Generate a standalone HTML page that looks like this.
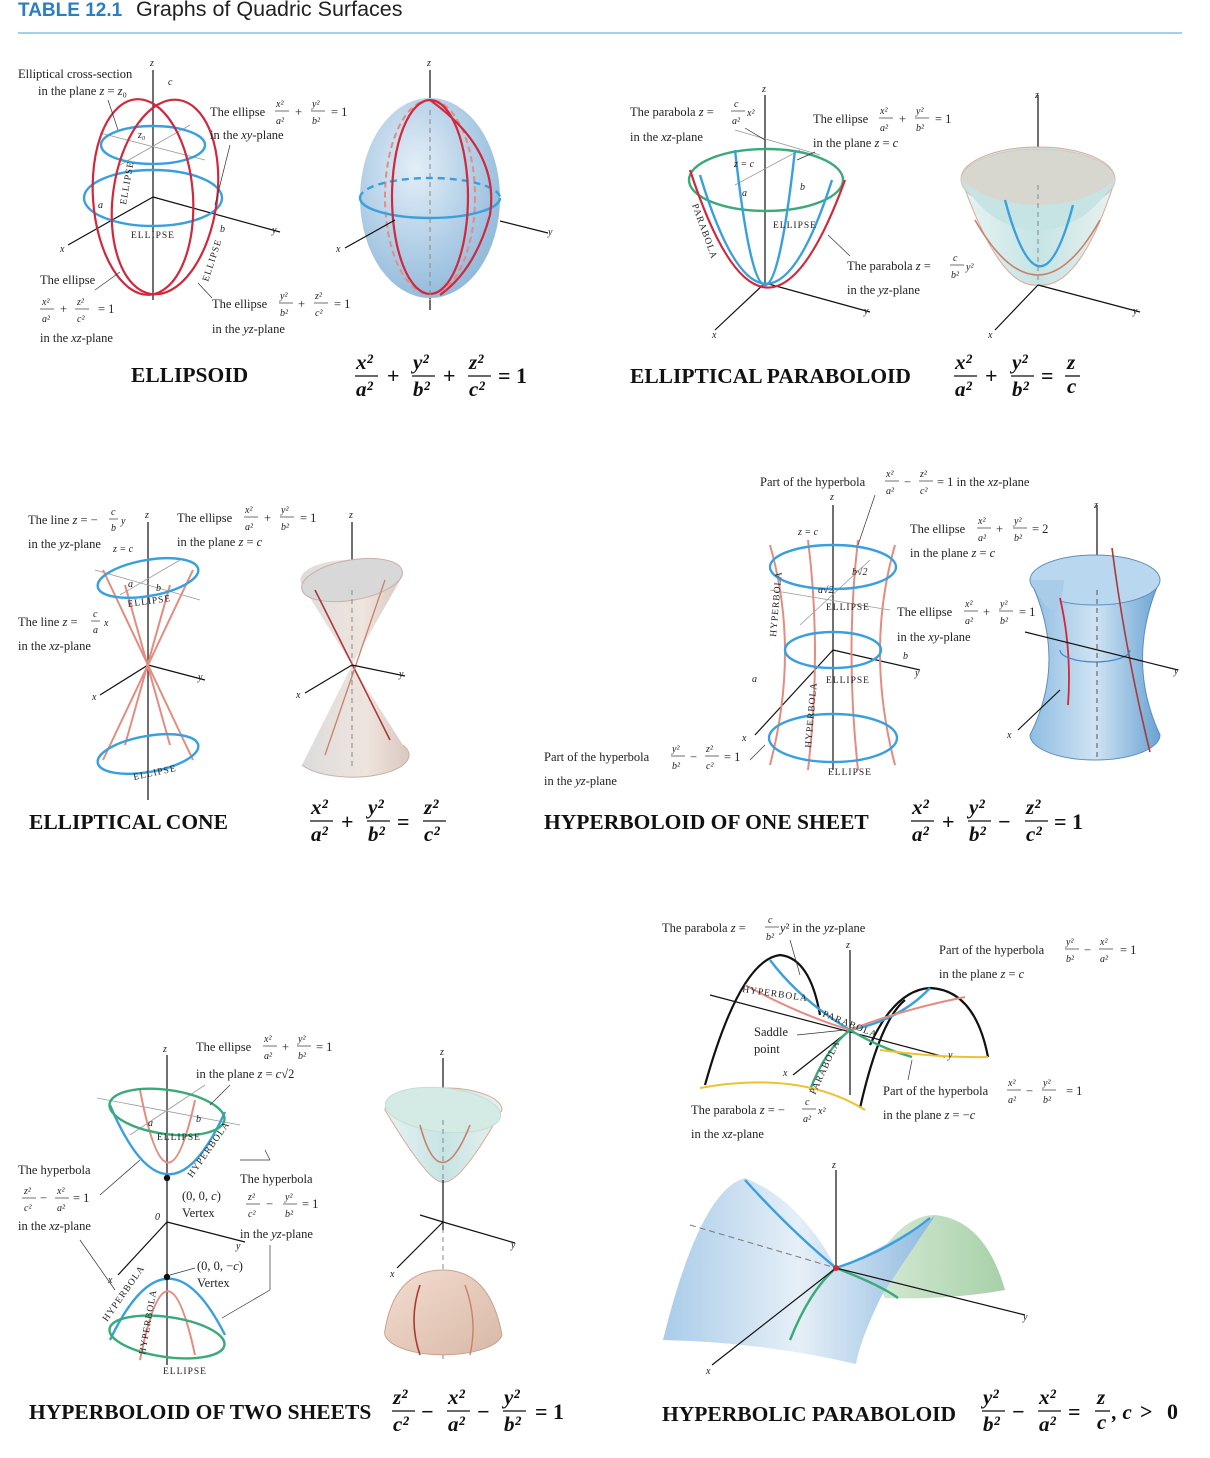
<!DOCTYPE html>
<html><head><meta charset="utf-8"><style>
html,body{margin:0;padding:0;background:#fff}
svg{display:block}
.lb{font-family:"Liberation Serif",serif;font-size:12.5px;fill:#222}
.sm{font-family:"Liberation Serif",serif;font-size:10px;fill:#222;font-style:italic}
.ti{font-family:"Liberation Serif",serif;font-size:21.5px;font-weight:bold;fill:#111}
.fm{font-family:"Liberation Serif",serif;font-size:21px;font-weight:bold;font-style:italic;fill:#111}
.op{font-family:"Liberation Serif",serif;font-size:22px;font-weight:bold;fill:#111}
.cap{font-family:"Liberation Serif",serif;font-size:9.5px;fill:#222;letter-spacing:1px}
.ax{stroke:#111;stroke-width:1.2;fill:none}
.gr{stroke:#999;stroke-width:0.8;fill:none}
.bl{stroke:#3aa0dd;stroke-width:2.4;fill:none}
.rd{stroke:#d0283c;stroke-width:2.2;fill:none}
.pk{stroke:#e48c80;stroke-width:2;fill:none}
.gn{stroke:#3aaa78;stroke-width:2.4;fill:none}
.ye{stroke:#f0c030;stroke-width:2;fill:none}
.bk{stroke:#111;stroke-width:2.2;fill:none}
.ld{stroke:#333;stroke-width:0.7;fill:none}
</style></head><body>
<svg width="1210" height="1458" viewBox="0 0 1210 1458">
<defs>
<radialGradient id="gb" cx="0.4" cy="0.35" r="0.7"><stop offset="0" stop-color="#e3eef7"/><stop offset="1" stop-color="#8fb8da"/></radialGradient>
<linearGradient id="gcup" x1="0" y1="0" x2="1" y2="0"><stop offset="0" stop-color="#e8f3f2"/><stop offset="0.5" stop-color="#c6e4e4"/><stop offset="1" stop-color="#e9f1ee"/></linearGradient>
<linearGradient id="gcone" x1="0" y1="0" x2="1" y2="0"><stop offset="0" stop-color="#dcdcdc"/><stop offset="0.6" stop-color="#efe4de"/><stop offset="1" stop-color="#d9c8c0"/></linearGradient>
<linearGradient id="ghyp" x1="0" y1="0" x2="1" y2="0"><stop offset="0" stop-color="#8fbde2"/><stop offset="0.5" stop-color="#cfe3f3"/><stop offset="1" stop-color="#6aa3d3"/></linearGradient>
<linearGradient id="gdome" x1="0" y1="0" x2="1" y2="1"><stop offset="0" stop-color="#f3ddd0"/><stop offset="1" stop-color="#d8b8a6"/></linearGradient>
<linearGradient id="gsad" x1="0" y1="0" x2="1" y2="0"><stop offset="0" stop-color="#a9cce9"/><stop offset="0.5" stop-color="#e6eff7"/><stop offset="1" stop-color="#8ebadf"/></linearGradient>
<linearGradient id="ggr" x1="0" y1="0" x2="1" y2="0"><stop offset="0" stop-color="#d6ead6"/><stop offset="1" stop-color="#a8d0a8"/></linearGradient>
</defs>

<g>
<text x="18" y="16" font-family="Liberation Sans,sans-serif" font-size="19" font-weight="bold" fill="#2a7fc0">TABLE 12.1</text>
<text x="136" y="16" font-family="Liberation Sans,sans-serif" font-size="21.5" fill="#222">Graphs of Quadric Surfaces</text>
<line x1="18" y1="33" x2="1182" y2="33" stroke="#7cc3e6" stroke-width="1.5"/>
</g>

<!-- ELLIPSOID -->
<g>
<line class="ax" x1="153" y1="70" x2="153" y2="300"/>
<line class="ax" x1="153" y1="197" x2="280" y2="232"/>
<line class="ax" x1="153" y1="197" x2="68" y2="245"/>
<line class="gr" x1="100" y1="133" x2="205" y2="160"/><line class="gr" x1="120" y1="165" x2="190" y2="125"/>
<ellipse class="bl" cx="153" cy="145" rx="52" ry="19"/>
<ellipse class="bl" cx="153" cy="198" rx="69" ry="28"/>
<ellipse class="rd" cx="143" cy="197" rx="50" ry="98" transform="rotate(-4 143 197)"/>
<ellipse class="rd" cx="165" cy="197" rx="52" ry="98" transform="rotate(8 165 197)"/>
<text class="sm" x="150" y="66">z</text><text class="sm" x="168" y="85">c</text><text class="sm" x="138" y="138">z₀</text>
<text class="sm" x="98" y="208">a</text><text class="sm" x="220" y="232">b</text><text class="sm" x="272" y="233">y</text><text class="sm" x="60" y="252">x</text>
<text class="cap" x="131" y="238">ELLIPSE</text>
<text class="cap" transform="translate(126 205) rotate(-80)">ELLIPSE</text>
<text class="cap" transform="translate(208 282) rotate(-72)">ELLIPSE</text>
<text class="lb" x="18" y="78">Elliptical cross-section</text>
<text class="lb" x="38" y="95">in the plane <tspan font-style="italic">z</tspan> = <tspan font-style="italic">z</tspan>₀</text>
<line class="ld" x1="108" y1="100" x2="118" y2="130"/>
<text class="lb" x="210" y="116">The ellipse</text>
<text class="sm" x="276" y="107">x²</text><line class="ld" x1="275" y1="111" x2="289" y2="111"/><text class="sm" x="276" y="124">a²</text>
<text class="lb" x="295" y="116">+</text>
<text class="sm" x="312" y="107">y²</text><line class="ld" x1="311" y1="111" x2="325" y2="111"/><text class="sm" x="312" y="124">b²</text>
<text class="lb" x="331" y="116">= 1</text>
<text class="lb" x="210" y="139">in the <tspan font-style="italic">xy</tspan>-plane</text>
<line class="ld" x1="230" y1="145" x2="215" y2="205"/>
<text class="lb" x="40" y="284">The ellipse</text>
<text class="sm" x="42" y="305">x²</text><line class="ld" x1="40" y1="309" x2="54" y2="309"/><text class="sm" x="42" y="322">a²</text>
<text class="lb" x="60" y="313">+</text>
<text class="sm" x="77" y="305">z²</text><line class="ld" x1="75" y1="309" x2="89" y2="309"/><text class="sm" x="77" y="322">c²</text>
<text class="lb" x="98" y="313">= 1</text>
<text class="lb" x="40" y="342">in the <tspan font-style="italic">xz</tspan>-plane</text>
<line class="ld" x1="95" y1="290" x2="120" y2="272"/>
<text class="lb" x="212" y="308">The ellipse</text>
<text class="sm" x="280" y="299">y²</text><line class="ld" x1="279" y1="303" x2="293" y2="303"/><text class="sm" x="280" y="316">b²</text>
<text class="lb" x="298" y="308">+</text>
<text class="sm" x="315" y="299">z²</text><line class="ld" x1="314" y1="303" x2="328" y2="303"/><text class="sm" x="315" y="316">c²</text>
<text class="lb" x="334" y="308">= 1</text>
<text class="lb" x="212" y="333">in the <tspan font-style="italic">yz</tspan>-plane</text>
<line class="ld" x1="212" y1="298" x2="198" y2="283"/>
</g>
<g>
<line class="ax" x1="430" y1="70" x2="430" y2="310"/>
<ellipse cx="430" cy="198" rx="70" ry="100" fill="url(#gb)"/>
<ellipse class="pk" cx="430" cy="197" rx="45" ry="97" stroke-dasharray="6 4"/>
<path class="bl" d="M360 198 A70 20 0 0 1 500 198" stroke-dasharray="7 5"/>
<path class="bl" d="M360 198 A70 20 0 0 0 500 198"/>
<ellipse class="rd" cx="430" cy="197" rx="38" ry="97"/>
<path class="rd" d="M430 100 Q500 150 490 215 Q475 270 440 295"/>
<line x1="430" y1="110" x2="430" y2="300" stroke="#888" stroke-dasharray="5 4"/>
<line class="ax" x1="500" y1="221" x2="548" y2="233"/><line class="ax" x1="395" y1="220" x2="345" y2="248"/>
<text class="sm" x="427" y="66">z</text><text class="sm" x="548" y="235">y</text><text class="sm" x="336" y="252">x</text>
</g>
<text class="ti" x="131" y="382">ELLIPSOID</text>
<g>
<text class="fm" x="356" y="369">x²</text><line x1="355" y1="376" x2="378" y2="376" stroke="#111" stroke-width="1.3"/><text class="fm" x="356" y="396">a²</text>
<text class="op" x="387" y="383">+</text>
<text class="fm" x="413" y="369">y²</text><line x1="412" y1="376" x2="435" y2="376" stroke="#111" stroke-width="1.3"/><text class="fm" x="413" y="396">b²</text>
<text class="op" x="443" y="383">+</text>
<text class="fm" x="469" y="369">z²</text><line x1="468" y1="376" x2="491" y2="376" stroke="#111" stroke-width="1.3"/><text class="fm" x="469" y="396">c²</text>
<text class="op" x="498" y="383">=  1</text>
</g>

<!-- ELLIPTICAL PARABOLOID -->
<g>
<line class="ax" x1="765" y1="95" x2="765" y2="283"/>
<line class="ax" x1="765" y1="283" x2="870" y2="312"/>
<line class="ax" x1="765" y1="283" x2="715" y2="330"/>
<line class="gr" x1="735" y1="130" x2="820" y2="155"/><line class="gr" x1="735" y1="185" x2="800" y2="150"/>
<ellipse class="gn" cx="766" cy="180" rx="77" ry="31"/>
<path class="bl" d="M735 150 Q765 420 795 150"/>
<path class="bl" d="M700 175 Q765 390 832 180"/>
<path class="rd" d="M690 170 Q765 400 845 180"/>
<text class="sm" x="762" y="92">z</text><text class="sm" x="734" y="167">z = c</text><text class="sm" x="742" y="196">a</text><text class="sm" x="800" y="190">b</text>
<text class="sm" x="864" y="314">y</text><text class="sm" x="712" y="338">x</text>
<text class="cap" x="773" y="228">ELLIPSE</text>
<text class="cap" transform="translate(692 205) rotate(70)">PARABOLA</text>
<text class="lb" x="630" y="116">The parabola <tspan font-style="italic">z</tspan> =</text>
<text class="sm" x="734" y="107">c</text><line class="ld" x1="731" y1="111" x2="745" y2="111"/><text class="sm" x="732" y="124">a²</text><text class="sm" x="747" y="116">x²</text>
<text class="lb" x="630" y="141">in the <tspan font-style="italic">xz</tspan>-plane</text>
<line class="ld" x1="745" y1="128" x2="765" y2="140"/>
<text class="lb" x="813" y="123">The ellipse</text>
<text class="sm" x="880" y="114">x²</text><line class="ld" x1="879" y1="118" x2="893" y2="118"/><text class="sm" x="880" y="131">a²</text>
<text class="lb" x="899" y="123">+</text>
<text class="sm" x="916" y="114">y²</text><line class="ld" x1="915" y1="118" x2="929" y2="118"/><text class="sm" x="916" y="131">b²</text>
<text class="lb" x="935" y="123">= 1</text>
<text class="lb" x="813" y="147">in the plane <tspan font-style="italic">z</tspan> = <tspan font-style="italic">c</tspan></text>
<line class="ld" x1="815" y1="152" x2="797" y2="160"/>
<text class="lb" x="847" y="270">The parabola <tspan font-style="italic">z</tspan> =</text>
<text class="sm" x="953" y="261">c</text><line class="ld" x1="950" y1="265" x2="964" y2="265"/><text class="sm" x="951" y="278">b²</text><text class="sm" x="966" y="270">y²</text>
<text class="lb" x="847" y="294">in the <tspan font-style="italic">yz</tspan>-plane</text>
<line class="ld" x1="850" y1="256" x2="828" y2="235"/>
</g>
<g>
<line class="ax" x1="1038" y1="95" x2="1038" y2="285"/>
<path d="M961 178 Q1000 290 1038 285 Q1080 290 1115 180 A77 32 0 0 0 961 178 Z" fill="url(#gcup)" stroke="#d8a898" stroke-width="1"/>
<ellipse cx="1038" cy="180" rx="77" ry="31" fill="#d7d7cf" stroke="#c8ccc4"/>
<path d="M961 180 Q990 230 1038 230 Q1085 230 1115 180 Q1085 205 1038 205 Q990 205 961 180Z" fill="#c5e4e3"/>
<path class="bl" d="M1005 200 Q1040 330 1073 205" stroke-width="1.8"/>
<path d="M975 220 Q1038 330 1100 220" stroke="#c9806a" stroke-width="1.6" fill="none"/>
<line x1="1038" y1="185" x2="1038" y2="283" stroke="#888" stroke-dasharray="5 4"/>
<line class="ax" x1="1038" y1="285" x2="1140" y2="312"/><line class="ax" x1="1038" y1="285" x2="995" y2="330"/>
<text class="sm" x="1035" y="98">z</text><text class="sm" x="1133" y="314">y</text><text class="sm" x="988" y="338">x</text>
</g>
<text class="ti" x="630" y="383">ELLIPTICAL PARABOLOID</text>
<g>
<text class="fm" x="955" y="369">x²</text><line x1="954" y1="376" x2="977" y2="376" stroke="#111" stroke-width="1.3"/><text class="fm" x="955" y="396">a²</text>
<text class="op" x="985" y="383">+</text>
<text class="fm" x="1012" y="369">y²</text><line x1="1011" y1="376" x2="1034" y2="376" stroke="#111" stroke-width="1.3"/><text class="fm" x="1012" y="396">b²</text>
<text class="op" x="1041" y="383">=</text>
<text class="fm" x="1067" y="369">z</text><line x1="1065" y1="376" x2="1080" y2="376" stroke="#111" stroke-width="1.3"/><text class="fm" x="1067" y="393">c</text>
</g>

<!-- ELLIPTICAL CONE -->
<g>
<line class="ax" x1="148" y1="522" x2="148" y2="800"/>
<line class="ax" x1="148" y1="665" x2="205" y2="680"/><line class="ax" x1="148" y1="665" x2="100" y2="695"/>
<line class="gr" x1="95" y1="570" x2="200" y2="600"/><line class="gr" x1="120" y1="595" x2="180" y2="560"/>
<line class="pk" x1="103" y1="570" x2="193" y2="760"/><line class="pk" x1="193" y1="570" x2="103" y2="760"/>
<line class="pk" x1="125" y1="585" x2="170" y2="745"/><line class="pk" x1="170" y1="585" x2="125" y2="745"/>
<ellipse class="bl" cx="148" cy="578" rx="51" ry="18" transform="rotate(-10 148 578)"/>
<ellipse class="bl" cx="148" cy="754" rx="51" ry="18" transform="rotate(-10 148 754)"/>
<text class="sm" x="145" y="518">z</text><text class="sm" x="113" y="552">z = c</text><text class="sm" x="128" y="587">a</text><text class="sm" x="156" y="591">b</text>
<text class="sm" x="198" y="680">y</text><text class="sm" x="92" y="700">x</text>
<text class="cap" x="128" y="607" transform="rotate(-8 128 607)">ELLIPSE</text>
<text class="cap" x="134" y="780" transform="rotate(-12 134 780)">ELLIPSE</text>
<text class="lb" x="28" y="524">The line <tspan font-style="italic">z</tspan> = −</text>
<text class="sm" x="111" y="515">c</text><line class="ld" x1="109" y1="519" x2="118" y2="519"/><text class="sm" x="111" y="531">b</text><text class="sm" x="121" y="524">y</text>
<text class="lb" x="28" y="548">in the <tspan font-style="italic">yz</tspan>-plane</text>
<text class="lb" x="177" y="522">The ellipse</text>
<text class="sm" x="245" y="513">x²</text><line class="ld" x1="244" y1="517" x2="258" y2="517"/><text class="sm" x="245" y="530">a²</text>
<text class="lb" x="264" y="522">+</text>
<text class="sm" x="281" y="513">y²</text><line class="ld" x1="280" y1="517" x2="294" y2="517"/><text class="sm" x="281" y="530">b²</text>
<text class="lb" x="300" y="522">= 1</text>
<text class="lb" x="177" y="546">in the plane <tspan font-style="italic">z</tspan> = <tspan font-style="italic">c</tspan></text>
<text class="lb" x="18" y="626">The line <tspan font-style="italic">z</tspan> =</text>
<text class="sm" x="93" y="617">c</text><line class="ld" x1="91" y1="621" x2="100" y2="621"/><text class="sm" x="93" y="633">a</text><text class="sm" x="104" y="626">x</text>
<text class="lb" x="18" y="650">in the <tspan font-style="italic">xz</tspan>-plane</text>
</g>
<g>
<line class="ax" x1="352" y1="522" x2="352" y2="580"/>
<path d="M302 585 L352 665 L403 575 A51 20 0 0 0 302 585Z" fill="url(#gcone)"/>
<ellipse cx="352" cy="580" rx="51" ry="20" transform="rotate(-10 352 580)" fill="#d8d8d8" stroke="#c9b0a6"/>
<path d="M302 765 L352 665 L403 745 A51 20 0 0 1 302 765Z" fill="url(#gcone)"/>
<path d="M302 765 A51 20 0 0 0 403 745" stroke="#c9b0a6" fill="none"/>
<line x1="315" y1="590" x2="390" y2="740" stroke="#a83a3a" stroke-width="1.6"/>
<line x1="385" y1="580" x2="325" y2="755" stroke="#c9806a" stroke-width="1.3"/>
<line x1="352" y1="590" x2="352" y2="770" stroke="#888" stroke-dasharray="5 4"/>
<line class="ax" x1="352" y1="665" x2="405" y2="676"/><line class="ax" x1="352" y1="665" x2="305" y2="693"/>
<text class="sm" x="349" y="518">z</text><text class="sm" x="399" y="677">y</text><text class="sm" x="296" y="698">x</text>
</g>
<text class="ti" x="29" y="829">ELLIPTICAL CONE</text>
<g>
<text class="fm" x="311" y="814">x²</text><line x1="310" y1="821" x2="333" y2="821" stroke="#111" stroke-width="1.3"/><text class="fm" x="311" y="841">a²</text>
<text class="op" x="341" y="829">+</text>
<text class="fm" x="368" y="814">y²</text><line x1="367" y1="821" x2="390" y2="821" stroke="#111" stroke-width="1.3"/><text class="fm" x="368" y="841">b²</text>
<text class="op" x="397" y="829">=</text>
<text class="fm" x="424" y="814">z²</text><line x1="423" y1="821" x2="446" y2="821" stroke="#111" stroke-width="1.3"/><text class="fm" x="424" y="841">c²</text>
</g>

<!-- HYPERBOLOID OF ONE SHEET -->
<g>
<line class="ax" x1="833" y1="505" x2="833" y2="770"/>
<line class="ax" x1="833" y1="650" x2="920" y2="670"/><line class="ax" x1="833" y1="650" x2="755" y2="735"/>
<line class="gr" x1="770" y1="590" x2="890" y2="610"/><line class="gr" x1="800" y1="625" x2="870" y2="560"/>
<path class="pk" d="M770 545 Q800 650 770 765"/><path class="pk" d="M895 545 Q865 650 895 765"/>
<path class="pk" d="M808 540 Q822 650 808 770"/><path class="pk" d="M858 540 Q845 650 858 770"/>
<ellipse class="bl" cx="833" cy="567" rx="63" ry="22"/>
<ellipse class="bl" cx="833" cy="650" rx="48" ry="18"/>
<ellipse class="bl" cx="833" cy="738" rx="64" ry="24"/>
<text class="sm" x="830" y="500">z</text><text class="sm" x="798" y="535">z = c</text><text class="sm" x="818" y="593">a√2</text><text class="sm" x="852" y="575">b√2</text>
<text class="sm" x="903" y="659">b</text><text class="sm" x="752" y="682">a</text><text class="sm" x="915" y="676">y</text><text class="sm" x="742" y="741">x</text>
<text class="cap" x="826" y="610">ELLIPSE</text><text class="cap" x="826" y="683">ELLIPSE</text><text class="cap" x="828" y="775">ELLIPSE</text>
<text class="cap" transform="translate(776 637) rotate(-85)">HYPERBOLA</text>
<text class="cap" transform="translate(811 748) rotate(-85)">HYPERBOLA</text>
<text class="lb" x="760" y="486">Part of the hyperbola</text>
<text class="sm" x="886" y="477">x²</text><line class="ld" x1="885" y1="481" x2="899" y2="481"/><text class="sm" x="886" y="494">a²</text>
<text class="lb" x="904" y="486">−</text>
<text class="sm" x="920" y="477">z²</text><line class="ld" x1="919" y1="481" x2="933" y2="481"/><text class="sm" x="920" y="494">c²</text>
<text class="lb" x="937" y="486">= 1 in the <tspan font-style="italic">xz</tspan>-plane</text>
<line class="ld" x1="875" y1="495" x2="858" y2="545"/>
<text class="lb" x="910" y="533">The ellipse</text>
<text class="sm" x="978" y="524">x²</text><line class="ld" x1="977" y1="528" x2="991" y2="528"/><text class="sm" x="978" y="541">a²</text>
<text class="lb" x="996" y="533">+</text>
<text class="sm" x="1014" y="524">y²</text><line class="ld" x1="1013" y1="528" x2="1027" y2="528"/><text class="sm" x="1014" y="541">b²</text>
<text class="lb" x="1032" y="533">= 2</text>
<text class="lb" x="910" y="557">in the plane <tspan font-style="italic">z</tspan> = <tspan font-style="italic">c</tspan></text>
<text class="lb" x="897" y="616">The ellipse</text>
<text class="sm" x="965" y="607">x²</text><line class="ld" x1="964" y1="611" x2="978" y2="611"/><text class="sm" x="965" y="624">a²</text>
<text class="lb" x="983" y="616">+</text>
<text class="sm" x="1000" y="607">y²</text><line class="ld" x1="999" y1="611" x2="1013" y2="611"/><text class="sm" x="1000" y="624">b²</text>
<text class="lb" x="1019" y="616">= 1</text>
<text class="lb" x="897" y="641">in the <tspan font-style="italic">xy</tspan>-plane</text>
<text class="lb" x="544" y="761">Part of the hyperbola</text>
<text class="sm" x="672" y="752">y²</text><line class="ld" x1="671" y1="756" x2="685" y2="756"/><text class="sm" x="672" y="769">b²</text>
<text class="lb" x="690" y="761">−</text>
<text class="sm" x="706" y="752">z²</text><line class="ld" x1="705" y1="756" x2="719" y2="756"/><text class="sm" x="706" y="769">c²</text>
<text class="lb" x="724" y="761">= 1</text>
<text class="lb" x="544" y="785">in the <tspan font-style="italic">yz</tspan>-plane</text>
<line class="ld" x1="750" y1="760" x2="765" y2="745"/>
</g>
<g>
<line class="ax" x1="1097" y1="505" x2="1097" y2="575"/>
<path d="M1030 580 Q1068 660 1030 735 A65 25 0 0 0 1160 735 Q1125 660 1160 580 Z" fill="url(#ghyp)" stroke="#5d8fbd"/>
<ellipse cx="1095" cy="580" rx="65" ry="25" fill="#b9d7ee" stroke="#5d8fbd"/>
<path d="M1030 580 Q1060 640 1064 580" fill="#a9cde8"/>
<path d="M1068 705 Q1072 650 1060 598" stroke="#d0283c" stroke-width="1.8" fill="none"/>
<path d="M1112 548 Q1125 650 1150 752" stroke="#a83a3a" stroke-width="1.6" fill="none"/>
<path d="M1060 650 A35 12 0 0 0 1130 650" stroke="#3a88cc" stroke-width="1.2" fill="none"/>
<line x1="1097" y1="590" x2="1097" y2="760" stroke="#555" stroke-dasharray="5 4"/>
<line class="ax" x1="1025" y1="632" x2="1178" y2="670"/><line class="ax" x1="1060" y1="690" x2="1018" y2="730"/>
<text class="sm" x="1094" y="508">z</text><text class="sm" x="1174" y="674">y</text><text class="sm" x="1007" y="738">x</text>
</g>
<text class="ti" x="544" y="829">HYPERBOLOID OF ONE SHEET</text>
<g>
<text class="fm" x="912" y="814">x²</text><line x1="911" y1="821" x2="934" y2="821" stroke="#111" stroke-width="1.3"/><text class="fm" x="912" y="841">a²</text>
<text class="op" x="942" y="829">+</text>
<text class="fm" x="969" y="814">y²</text><line x1="968" y1="821" x2="991" y2="821" stroke="#111" stroke-width="1.3"/><text class="fm" x="969" y="841">b²</text>
<text class="op" x="998" y="829">−</text>
<text class="fm" x="1026" y="814">z²</text><line x1="1025" y1="821" x2="1048" y2="821" stroke="#111" stroke-width="1.3"/><text class="fm" x="1026" y="841">c²</text>
<text class="op" x="1054" y="829">=  1</text>
</g>

<!-- HYPERBOLOID OF TWO SHEETS -->
<g>
<line class="ax" x1="167" y1="1055" x2="167" y2="1365"/>
<line class="ax" x1="167" y1="1222" x2="245" y2="1242"/><line class="ax" x1="167" y1="1222" x2="118" y2="1275"/>
<line class="gr" x1="97" y1="1098" x2="240" y2="1125"/><line class="gr" x1="130" y1="1135" x2="205" y2="1085"/>
<path class="pk" d="M140 1090 Q167 1230 195 1100"/>
<path class="bl" d="M110 1105 Q167 1240 225 1112"/>
<ellipse class="gn" cx="167" cy="1112" rx="58" ry="22" transform="rotate(8 167 1112)"/>
<path class="pk" d="M140 1360 Q167 1225 195 1355"/>
<path class="bl" d="M110 1340 Q167 1220 225 1335"/>
<ellipse class="gn" cx="167" cy="1337" rx="58" ry="20" transform="rotate(8 167 1337)"/>
<circle cx="167" cy="1178" r="3.2" fill="#111"/><circle cx="167" cy="1277" r="3.2" fill="#111"/>
<text class="sm" x="163" y="1052">z</text><text class="sm" x="148" y="1126">a</text><text class="sm" x="196" y="1122">b</text>
<text class="sm" x="155" y="1220">0</text><text class="sm" x="236" y="1249">y</text><text class="sm" x="108" y="1283">x</text>
<text class="cap" x="157" y="1140">ELLIPSE</text><text class="cap" x="163" y="1374">ELLIPSE</text>
<text class="cap" transform="translate(192 1178) rotate(-55)">HYPERBOLA</text>
<text class="cap" transform="translate(107 1322) rotate(-55)">HYPERBOLA</text>
<text class="cap" transform="translate(145 1355) rotate(-80)">HYPERBOLA</text>
<text class="lb" x="196" y="1051">The ellipse</text>
<text class="sm" x="264" y="1042">x²</text><line class="ld" x1="263" y1="1046" x2="277" y2="1046"/><text class="sm" x="264" y="1059">a²</text>
<text class="lb" x="282" y="1051">+</text>
<text class="sm" x="298" y="1042">y²</text><line class="ld" x1="297" y1="1046" x2="311" y2="1046"/><text class="sm" x="298" y="1059">b²</text>
<text class="lb" x="316" y="1051">= 1</text>
<text class="lb" x="196" y="1078">in the plane <tspan font-style="italic">z</tspan> = <tspan font-style="italic">c</tspan>√2</text>
<line class="ld" x1="230" y1="1085" x2="210" y2="1105"/>
<text class="lb" x="18" y="1174">The hyperbola</text>
<text class="sm" x="24" y="1194">z²</text><line class="ld" x1="22" y1="1198" x2="36" y2="1198"/><text class="sm" x="24" y="1211">c²</text>
<text class="lb" x="40" y="1202">−</text>
<text class="sm" x="57" y="1194">x²</text><line class="ld" x1="55" y1="1198" x2="69" y2="1198"/><text class="sm" x="57" y="1211">a²</text>
<text class="lb" x="73" y="1202">= 1</text>
<text class="lb" x="18" y="1230">in the <tspan font-style="italic">xz</tspan>-plane</text>
<line class="ld" x1="100" y1="1195" x2="140" y2="1160"/><line class="ld" x1="80" y1="1240" x2="115" y2="1290"/>
<text class="lb" x="182" y="1200">(0, 0, <tspan font-style="italic">c</tspan>)</text>
<text class="lb" x="182" y="1217">Vertex</text>
<text class="lb" x="240" y="1183">The hyperbola</text>
<text class="sm" x="248" y="1200">z²</text><line class="ld" x1="246" y1="1204" x2="260" y2="1204"/><text class="sm" x="248" y="1217">c²</text>
<text class="lb" x="266" y="1208">−</text>
<text class="sm" x="285" y="1200">y²</text><line class="ld" x1="283" y1="1204" x2="297" y2="1204"/><text class="sm" x="285" y="1217">b²</text>
<text class="lb" x="302" y="1208">= 1</text>
<text class="lb" x="240" y="1238">in the <tspan font-style="italic">yz</tspan>-plane</text>
<line class="ld" x1="240" y1="1160" x2="270" y2="1160"/><line class="ld" x1="270" y1="1160" x2="265" y2="1150"/>
<line class="ld" x1="270" y1="1245" x2="270" y2="1290"/><line class="ld" x1="270" y1="1290" x2="222" y2="1318"/>
<text class="lb" x="197" y="1270">(0, 0, −<tspan font-style="italic">c</tspan>)</text>
<text class="lb" x="197" y="1287">Vertex</text>
<line class="ld" x1="170" y1="1275" x2="195" y2="1268"/>
</g>
<g>
<line class="ax" x1="443" y1="1058" x2="443" y2="1105"/>
<path d="M385 1110 Q430 1185 443 1182 Q460 1185 502 1110 A58 22 0 0 0 385 1110Z" fill="url(#gcup)" stroke="#d8a898"/>
<ellipse cx="443" cy="1110" rx="58" ry="22" fill="#d4eae4" stroke="#c6ddd6" transform="rotate(6 443 1110)"/>
<path d="M420 1125 Q440 1200 470 1125" stroke="#c9806a" stroke-width="1.6" fill="none"/>
<line x1="443" y1="1120" x2="443" y2="1360" stroke="#888" stroke-dasharray="5 4"/>
<path d="M385 1330 Q395 1270 443 1270 Q490 1270 502 1335 A58 22 0 0 1 385 1330Z" fill="url(#gdome)" stroke="#caa290"/>
<path d="M420 1285 Q408 1320 420 1355" stroke="#a83a3a" stroke-width="1.6" fill="none"/>
<path d="M465 1285 Q478 1320 470 1355" stroke="#c9806a" stroke-width="1.4" fill="none"/>
<line class="ax" x1="443" y1="1230" x2="443" y2="1180"/>
<line class="ax" x1="443" y1="1222" x2="515" y2="1243"/><line class="ax" x1="443" y1="1222" x2="397" y2="1268"/>
<line class="ax" x1="420" y1="1215" x2="443" y2="1222"/>
<text class="sm" x="440" y="1055">z</text><text class="sm" x="511" y="1248">y</text><text class="sm" x="390" y="1277">x</text>
</g>
<text class="ti" x="29" y="1419">HYPERBOLOID OF TWO SHEETS</text>
<g>
<text class="fm" x="393" y="1404">z²</text><line x1="392" y1="1411" x2="415" y2="1411" stroke="#111" stroke-width="1.3"/><text class="fm" x="393" y="1431">c²</text>
<text class="op" x="421" y="1419">−</text>
<text class="fm" x="448" y="1404">x²</text><line x1="447" y1="1411" x2="470" y2="1411" stroke="#111" stroke-width="1.3"/><text class="fm" x="448" y="1431">a²</text>
<text class="op" x="477" y="1419">−</text>
<text class="fm" x="504" y="1404">y²</text><line x1="503" y1="1411" x2="526" y2="1411" stroke="#111" stroke-width="1.3"/><text class="fm" x="504" y="1431">b²</text>
<text class="op" x="535" y="1419">=  1</text>
</g>

<!-- HYPERBOLIC PARABOLOID -->
<g>
<line class="ax" x1="850" y1="950" x2="850" y2="1095"/>
<line class="ax" x1="710" y1="995" x2="945" y2="1057"/><line class="ax" x1="850" y1="1030" x2="793" y2="1075"/>
<path class="bk" d="M705 1085 Q740 960 780 955 Q810 958 820 1015"/>
<path class="bk" d="M870 1045 Q895 990 930 988 Q975 990 988 1057"/>
<path class="bk" d="M860 1108 Q880 1020 905 1000"/>
<path class="bl" d="M770 960 Q800 1000 850 1030 Q900 1020 930 988"/>
<path class="pk" d="M745 985 Q800 1015 850 1030 Q900 1010 965 997"/>
<path class="gn" d="M810 1090 Q825 1050 850 1030 Q880 1048 912 1057"/>
<path class="ye" d="M700 1088 Q800 1070 865 1110 M880 1050 Q940 1058 988 1057"/>
<text class="sm" x="846" y="948">z</text><text class="sm" x="948" y="1058">y</text><text class="sm" x="783" y="1076">x</text>
<text class="cap" x="742" y="992" transform="rotate(8 742 992)">HYPERBOLA</text>
<text class="cap" x="822" y="1016" transform="rotate(22 822 1016)">PARABOLA</text>
<text class="cap" transform="translate(815 1095) rotate(-65)">PARABOLA</text>
<text class="lb" x="754" y="1036">Saddle</text><text class="lb" x="754" y="1053">point</text>
<line class="ld" x1="797" y1="1035" x2="845" y2="1030"/>
<text class="lb" x="662" y="932">The parabola <tspan font-style="italic">z</tspan> =</text>
<text class="sm" x="768" y="923">c</text><line class="ld" x1="765" y1="927" x2="779" y2="927"/><text class="sm" x="766" y="940">b²</text>
<text class="lb" x="780" y="932"><tspan font-style="italic">y</tspan>² in the <tspan font-style="italic">yz</tspan>-plane</text>
<line class="ld" x1="790" y1="940" x2="800" y2="975"/>
<text class="lb" x="939" y="954">Part of the hyperbola</text>
<text class="sm" x="1066" y="945">y²</text><line class="ld" x1="1065" y1="949" x2="1079" y2="949"/><text class="sm" x="1066" y="962">b²</text>
<text class="lb" x="1084" y="954">−</text>
<text class="sm" x="1100" y="945">x²</text><line class="ld" x1="1099" y1="949" x2="1113" y2="949"/><text class="sm" x="1100" y="962">a²</text>
<text class="lb" x="1120" y="954">= 1</text>
<text class="lb" x="939" y="978">in the plane <tspan font-style="italic">z</tspan> = <tspan font-style="italic">c</tspan></text>
<text class="lb" x="883" y="1095">Part of the hyperbola</text>
<text class="sm" x="1008" y="1086">x²</text><line class="ld" x1="1007" y1="1090" x2="1021" y2="1090"/><text class="sm" x="1008" y="1103">a²</text>
<text class="lb" x="1026" y="1095">−</text>
<text class="sm" x="1043" y="1086">y²</text><line class="ld" x1="1042" y1="1090" x2="1056" y2="1090"/><text class="sm" x="1043" y="1103">b²</text>
<text class="lb" x="1066" y="1095">= 1</text>
<text class="lb" x="883" y="1119">in the plane <tspan font-style="italic">z</tspan> = −<tspan font-style="italic">c</tspan></text>
<line class="ld" x1="908" y1="1080" x2="912" y2="1060"/>
<text class="lb" x="691" y="1114">The parabola <tspan font-style="italic">z</tspan> = −</text>
<text class="sm" x="805" y="1105">c</text><line class="ld" x1="802" y1="1109" x2="816" y2="1109"/><text class="sm" x="803" y="1122">a²</text><text class="sm" x="818" y="1114">x²</text>
<text class="lb" x="691" y="1138">in the <tspan font-style="italic">xz</tspan>-plane</text>
</g>
<g>
<path d="M870 1270 Q900 1215 935 1215 Q985 1220 1005 1290 Q950 1300 885 1298 Z" fill="url(#ggr)"/>
<path d="M663 1340 Q700 1190 745 1178 Q800 1200 836 1268 Q880 1250 935 1216 Q905 1260 882 1295 Q860 1340 856 1364 Q760 1342 663 1340Z" fill="url(#gsad)"/>
<path class="bl" d="M745 1180 Q790 1230 836 1268 Q890 1250 930 1218" stroke-width="2"/>
<path class="gn" d="M790 1340 Q810 1290 836 1268 Q880 1285 898 1298" stroke-width="2"/>
<line x1="690" y1="1225" x2="836" y2="1268" stroke="#777" stroke-dasharray="6 4"/>
<line class="ax" x1="836" y1="1170" x2="836" y2="1268"/>
<line class="ax" x1="836" y1="1268" x2="1025" y2="1315"/><line class="ax" x1="836" y1="1268" x2="712" y2="1365"/>
<circle cx="836" cy="1268" r="3" fill="#d0283c"/>
<text class="sm" x="832" y="1168">z</text><text class="sm" x="1023" y="1320">y</text><text class="sm" x="706" y="1374">x</text>
</g>
<text class="ti" x="662" y="1421">HYPERBOLIC PARABOLOID</text>
<g>
<text class="fm" x="983" y="1404">y²</text><line x1="982" y1="1411" x2="1005" y2="1411" stroke="#111" stroke-width="1.3"/><text class="fm" x="983" y="1431">b²</text>
<text class="op" x="1012" y="1419">−</text>
<text class="fm" x="1039" y="1404">x²</text><line x1="1038" y1="1411" x2="1061" y2="1411" stroke="#111" stroke-width="1.3"/><text class="fm" x="1039" y="1431">a²</text>
<text class="op" x="1068" y="1419">=</text>
<text class="fm" x="1097" y="1404">z</text><line x1="1095" y1="1411" x2="1110" y2="1411" stroke="#111" stroke-width="1.3"/><text class="fm" x="1097" y="1429">c</text>
<text class="fm" x="1112" y="1419">, c</text><text class="op" x="1140" y="1419">&gt;</text><text class="op" x="1167" y="1419">0</text>
</g>
</svg>
</body></html>
